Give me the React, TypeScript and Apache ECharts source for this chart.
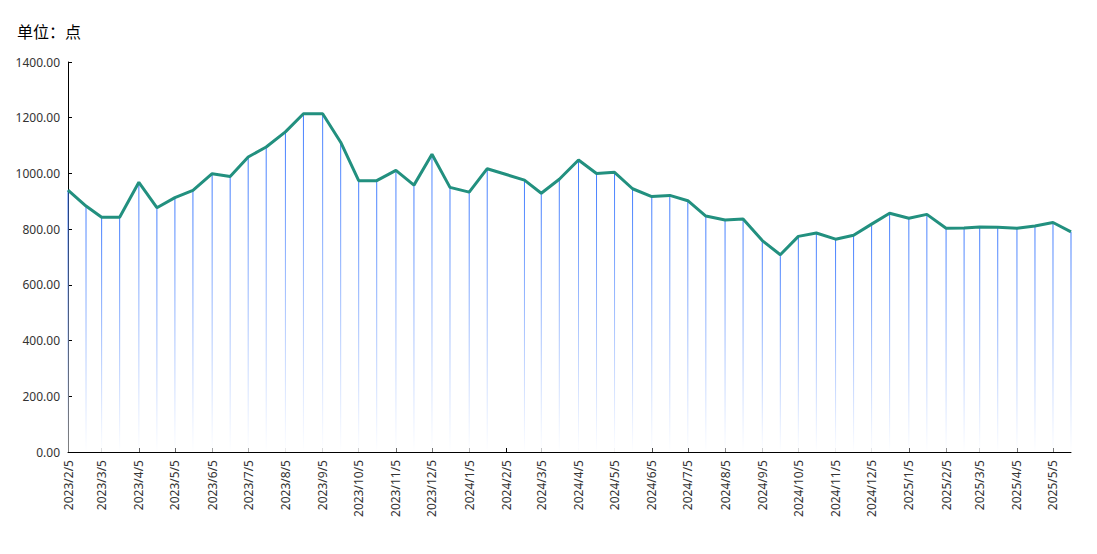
import React, { useEffect, useRef } from "react";
import * as echarts from "echarts";

const dates: string[] = [
  "2023/2/5", "2023/2/20", "2023/3/5", "2023/3/20", "2023/4/5", "2023/4/20",
  "2023/5/5", "2023/5/20", "2023/6/5", "2023/6/20", "2023/7/5", "2023/7/20",
  "2023/8/5", "2023/8/20", "2023/9/5", "2023/9/20", "2023/10/5", "2023/10/20",
  "2023/11/5", "2023/11/20", "2023/12/5", "2023/12/20", "2024/1/5", "2024/1/20",
  "2024/2/20", "2024/3/5", "2024/3/20", "2024/4/5", "2024/4/20", "2024/5/5",
  "2024/5/20", "2024/6/5", "2024/6/20", "2024/7/5", "2024/7/20", "2024/8/5",
  "2024/8/20", "2024/9/5", "2024/9/20", "2024/10/5", "2024/10/20", "2024/11/5",
  "2024/11/20", "2024/12/5", "2024/12/20", "2025/1/5", "2025/1/20", "2025/2/5",
  "2025/2/20", "2025/3/5", "2025/3/20", "2025/4/5", "2025/4/20", "2025/5/5",
  "2025/5/20",
];

const values: number[] = [
  940, 883, 843, 843, 968, 877,
  913, 939, 999, 989, 1059, 1095,
  1149, 1214, 1214, 1112, 974, 974,
  1011, 958, 1069, 950, 933, 1017,
  976, 929, 979, 1048, 1000, 1004,
  945, 917, 921, 902, 847, 833,
  836, 759, 708, 774, 786, 764,
  778, 818, 857, 839, 853, 803,
  804, 808, 807, 803, 811, 824,
  790,
];

const tickLabels: string[] = [
  "2023/2/5", "2023/3/5", "2023/4/5", "2023/5/5", "2023/6/5", "2023/7/5",
  "2023/8/5", "2023/9/5", "2023/10/5", "2023/11/5", "2023/12/5", "2024/1/5",
  "2024/2/5", "2024/3/5", "2024/4/5", "2024/5/5", "2024/6/5", "2024/7/5",
  "2024/8/5", "2024/9/5", "2024/10/5", "2024/11/5", "2024/12/5", "2025/1/5",
  "2025/2/5", "2025/3/5", "2025/4/5", "2025/5/5",
];

const unitLabel = "单位：点";

function ts(s: string): number {
  const [y, m, d] = s.split("/").map(Number);
  return new Date(y, m - 1, d).getTime();
}

function fmt(v: number): string {
  const d = new Date(v);
  return `${d.getFullYear()}/${d.getMonth() + 1}/${d.getDate()}`;
}

export default function App() {
  const ref = useRef<HTMLDivElement>(null);

  useEffect(() => {
    if (!ref.current) return;
    const chart = echarts.init(ref.current, undefined, { renderer: "svg" });
    const pts = dates.map((d, i) => [ts(d), values[i]]);
    const tickVals = tickLabels.map(ts);
    const font = "'Noto Sans', 'Noto Sans CJK SC', sans-serif";

    chart.setOption({
      animation: false,
      backgroundColor: "#ffffff",
      textStyle: { fontFamily: font },
      title: {
        text: unitLabel,
        left: 17,
        top: 23,
        padding: 0,
        textStyle: {
          fontSize: 16,
          fontWeight: "normal",
          color: "#000",
          lineHeight: 16,
          fontFamily: "'Noto Sans CJK SC', 'Noto Sans', sans-serif",
        },
      },
      grid: { left: 68, right: 26, top: 62, bottom: 102, containLabel: false },
      xAxis: {
        type: "value",
        min: ts(dates[0]),
        max: ts(dates[dates.length - 1]),
        scale: true,
        axisLine: { show: true, lineStyle: { color: "#000", width: 1 } },
        axisTick: {
          show: true,
          inside: true,
          length: 4,
          customValues: tickVals,
          lineStyle: { color: "#000" },
        },
        axisLabel: {
          customValues: tickVals,
          rotate: 90,
          fontSize: 12,
          color: "#333",
          margin: 8,
          formatter: (v: number) => fmt(v),
        },
        splitLine: { show: false },
      },
      yAxis: {
        type: "value",
        min: 0,
        max: 1400,
        interval: 200,
        axisLine: { show: true, lineStyle: { color: "#000", width: 1 } },
        axisTick: { show: true, inside: true, length: 4, lineStyle: { color: "#000" } },
        axisLabel: {
          fontSize: 12,
          color: "#333",
          margin: 8,
          formatter: (v: number) => v.toFixed(2),
        },
        splitLine: { show: false },
      },
      series: [
        {
          type: "bar",
          data: pts,
          barWidth: 1,
          z: 2,
          itemStyle: {
            color: new echarts.graphic.LinearGradient(0, 0, 0, 1, [
              { offset: 0, color: "#3f7bff" },
              { offset: 1, color: "#ffffff" },
            ]),
          },
        },
        {
          type: "line",
          data: pts,
          showSymbol: false,
          symbol: "none",
          z: 3,
          lineStyle: { color: "#22907f", width: 3 },
          itemStyle: { color: "#22907f" },
        },
      ],
    });

    return () => chart.dispose();
  }, []);

  return (
    <div
      ref={ref}
      style={{ position: "fixed", left: 0, top: 0, width: 1097, height: 554 }}
    />
  );
}
